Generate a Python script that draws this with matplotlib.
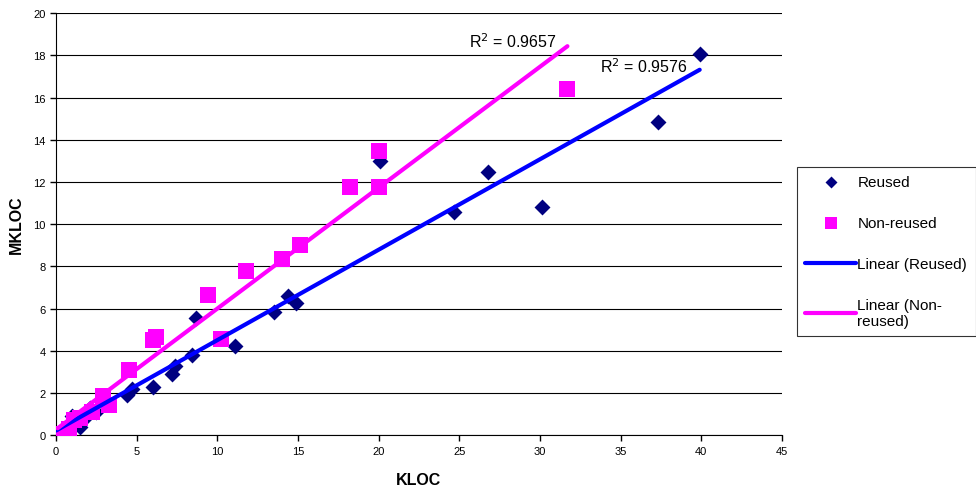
import matplotlib.pyplot as plt
import numpy as np

plt.rcParams['font.family'] = ['Liberation Sans', 'DejaVu Sans']

# Reused projects (KLOC, MKLOC)
reused_kloc = [0.0, 0.5, 1.0, 1.2, 1.5, 1.8, 2.1, 2.5, 4.4, 4.7, 6.0, 7.2, 7.4,
               8.4, 8.7, 11.1, 13.5, 14.4, 14.9, 20.1, 24.7, 26.8, 30.1, 37.3, 39.9]
reused_mkloc = [0.0, 0.2, 0.9, 0.5, 0.4, 0.8, 1.3, 1.1, 1.9, 2.2, 2.3, 2.9, 3.3,
                3.8, 5.55, 4.25, 5.85, 6.6, 6.25, 13.0, 10.6, 12.45, 10.8, 14.85, 18.05]

# Non-reused projects
nonreused_kloc = [0.1, 0.4, 0.8, 1.1, 1.5, 2.2, 2.9, 3.3, 4.5, 6.0, 6.2, 9.4,
                  10.2, 11.8, 14.0, 15.1, 18.2, 20.0, 20.0, 31.7]
nonreused_mkloc = [0.0, 0.05, 0.3, 0.7, 0.8, 1.1, 1.85, 1.45, 3.1, 4.5, 4.65, 6.65,
                   4.55, 7.8, 8.35, 9.0, 11.75, 11.75, 13.45, 16.4]

r2_reused = 'R$^2$ = 0.9576'
r2_nonreused = 'R$^2$ = 0.9657'


def trend(x, y):
    """ Least squares line over the range of the data. """
    k, b = np.polyfit(x, y, 1)
    xs = np.array([min(x), max(x)])
    return xs, k * xs + b


fig = plt.figure(figsize=(9.76, 4.89), dpi=100)
ax = fig.add_axes([0.0574, 0.108, 0.7438, 0.863])

ax.scatter(reused_kloc, reused_mkloc, marker='D', s=66, color='#000080',
           label='Reused', zorder=3, linewidths=0)
ax.scatter(nonreused_kloc, nonreused_mkloc, marker='s', s=125, color='#FF00FF',
           label='Non-reused', zorder=4, linewidths=0)

xr, yr = trend(reused_kloc, reused_mkloc)
ax.plot(xr, yr, color='#0000FF', lw=3, label='Linear (Reused)', zorder=5,
        solid_capstyle='round')
xn, yn = trend(nonreused_kloc, nonreused_mkloc)
ax.plot(xn, yn, color='#FF00FF', lw=3, label='Linear (Non-\nreused)', zorder=6,
        solid_capstyle='round')

ax.text(25.6, 18.4, r2_nonreused, fontsize=11.5, ha='left', va='baseline')
ax.text(33.7, 17.2, r2_reused, fontsize=11.5, ha='left', va='baseline')

ax.set_xlim(0, 45)
ax.set_ylim(0, 20)
ax.set_xticks(np.arange(0, 46, 5))
ax.set_yticks(np.arange(0, 21, 2))
ax.tick_params(labelsize=8, length=4, width=1, direction='out')
ax.yaxis.grid(True, color='black', lw=0.8)
ax.set_axisbelow(True)
for side in ['top', 'right']:
    ax.spines[side].set_visible(False)
ax.spines['left'].set_color('black')
ax.spines['bottom'].set_color('black')

ax.set_xlabel('KLOC', fontsize=11.5, fontweight='bold', labelpad=12)
ax.set_ylabel('MKLOC', fontsize=11.5, fontweight='bold', labelpad=7)

leg = fig.legend(loc='upper left', bbox_to_anchor=(0.8166, 0.6564), fontsize=11,
                 frameon=True, fancybox=False, edgecolor='black',
                 labelspacing=1.75, handlelength=3.3, handletextpad=0.1,
                 borderpad=0.55, borderaxespad=0, scatterpoints=1,
                 markerscale=0.75)
leg.get_frame().set_linewidth(0.8)

fig.savefig('out.png', dpi=100)
